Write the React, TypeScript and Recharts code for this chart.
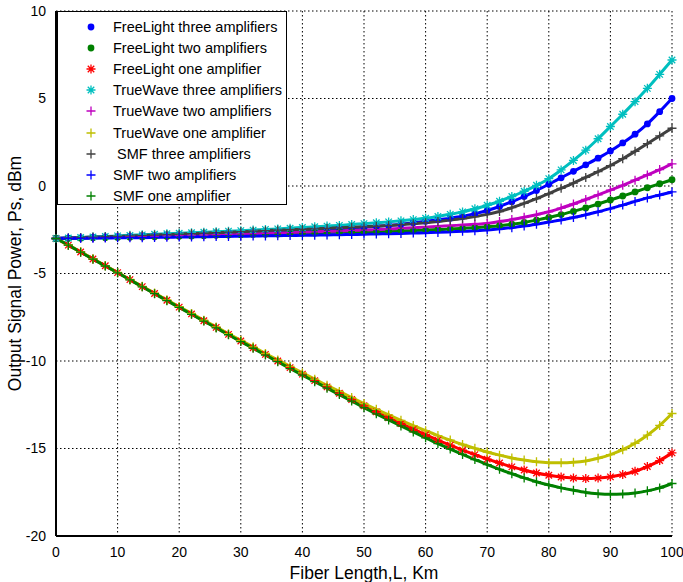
import { CartesianGrid, Legend, Line, LineChart, XAxis, YAxis } from "recharts";

const fiberLength = [
  0, 2, 4, 6, 8, 10, 12, 14, 16, 18, 20, 22, 24, 26, 28, 30, 32, 34, 36, 38, 40, 42, 44, 46, 48, 50,
  52, 54, 56, 58, 60, 62, 64, 66, 68, 70, 72, 74, 76, 78, 80, 82, 84, 86, 88, 90, 92, 94, 96, 98, 100
];

const freeLightThree = [
  -3.0, -2.98, -2.96, -2.93, -2.91, -2.89, -2.87, -2.84, -2.82, -2.8, -2.78, -2.75, -2.73, -2.7, -2.68, -2.66,
  -2.63, -2.61, -2.59, -2.56, -2.53, -2.5, -2.47, -2.44, -2.4, -2.35, -2.3, -2.25, -2.18, -2.1, -2.02, -1.93,
  -1.84, -1.73, -1.58, -1.4, -1.17, -0.9, -0.6, -0.26, 0.1, 0.47, 0.84, 1.21, 1.59, 2.0, 2.46, 2.96, 3.55, 4.25, 5.0
];
const freeLightTwo = [
  -3.0, -2.99, -2.98, -2.96, -2.95, -2.94, -2.93, -2.91, -2.9, -2.88, -2.87, -2.85, -2.84, -2.82, -2.8, -2.79,
  -2.77, -2.75, -2.74, -2.72, -2.7, -2.68, -2.66, -2.64, -2.62, -2.62, -2.61, -2.59, -2.57, -2.55, -2.52, -2.49,
  -2.46, -2.42, -2.38, -2.33, -2.27, -2.18, -2.08, -1.95, -1.8, -1.63, -1.45, -1.25, -1.03, -0.8, -0.57, -0.34,
  -0.1, 0.13, 0.36
];
const freeLightOne = [
  -3.0, -3.38, -3.77, -4.17, -4.56, -4.95, -5.35, -5.75, -6.14, -6.53, -6.92, -7.31, -7.7, -8.08, -8.48, -8.86,
  -9.24, -9.62, -10.0, -10.38, -10.75, -11.12, -11.48, -11.84, -12.2, -12.56, -12.9, -13.24, -13.57, -13.89,
  -14.21, -14.52, -14.81, -15.09, -15.35, -15.61, -15.83, -16.05, -16.23, -16.4, -16.53, -16.63, -16.69, -16.72,
  -16.69, -16.62, -16.49, -16.3, -16.03, -15.69, -15.25
];
const trueWaveThree = [
  -3.0, -2.97, -2.94, -2.91, -2.88, -2.85, -2.82, -2.79, -2.76, -2.73, -2.7, -2.67, -2.64, -2.61, -2.58, -2.55,
  -2.52, -2.48, -2.45, -2.41, -2.37, -2.33, -2.29, -2.25, -2.2, -2.15, -2.1, -2.05, -1.99, -1.92, -1.84, -1.74,
  -1.62, -1.48, -1.3, -1.1, -0.87, -0.6, -0.3, 0.04, 0.42, 0.92, 1.46, 2.05, 2.7, 3.4, 4.1, 4.82, 5.58, 6.38, 7.2
];
const trueWaveTwo = [
  -3.0, -2.98, -2.97, -2.95, -2.94, -2.92, -2.9, -2.89, -2.87, -2.85, -2.83, -2.81, -2.8, -2.78, -2.76, -2.74,
  -2.72, -2.7, -2.68, -2.66, -2.64, -2.62, -2.59, -2.57, -2.54, -2.52, -2.49, -2.46, -2.42, -2.39, -2.35, -2.31,
  -2.27, -2.23, -2.19, -2.14, -2.03, -1.92, -1.79, -1.64, -1.47, -1.26, -1.03, -0.77, -0.51, -0.24, 0.04, 0.33,
  0.63, 0.94, 1.27
];
const trueWaveOne = [
  -3.0, -3.37, -3.76, -4.16, -4.55, -4.94, -5.34, -5.73, -6.12, -6.51, -6.9, -7.28, -7.67, -8.05, -8.44, -8.82,
  -9.19, -9.57, -9.94, -10.31, -10.68, -11.04, -11.39, -11.74, -12.09, -12.43, -12.76, -13.08, -13.39, -13.69,
  -13.98, -14.26, -14.52, -14.77, -14.99, -15.2, -15.38, -15.54, -15.66, -15.76, -15.81, -15.82, -15.79, -15.71,
  -15.56, -15.35, -15.07, -14.7, -14.24, -13.68, -13.0
];
const smfThree = [
  -3.0, -2.97, -2.95, -2.92, -2.9, -2.88, -2.85, -2.83, -2.8, -2.78, -2.75, -2.72, -2.7, -2.67, -2.64, -2.61,
  -2.58, -2.55, -2.52, -2.5, -2.48, -2.45, -2.42, -2.39, -2.36, -2.33, -2.3, -2.26, -2.21, -2.16, -2.1, -2.03,
  -1.95, -1.86, -1.75, -1.62, -1.46, -1.24, -0.99, -0.72, -0.43, -0.13, 0.17, 0.49, 0.82, 1.17, 1.56, 1.98, 2.42,
  2.86, 3.3
];
const smfTwo = [
  -3.0, -2.99, -2.99, -2.98, -2.97, -2.96, -2.95, -2.95, -2.94, -2.93, -2.92, -2.91, -2.9, -2.89, -2.88, -2.87,
  -2.86, -2.85, -2.84, -2.83, -2.82, -2.81, -2.8, -2.78, -2.77, -2.76, -2.74, -2.73, -2.71, -2.69, -2.67, -2.65,
  -2.62, -2.59, -2.56, -2.52, -2.45, -2.38, -2.29, -2.18, -2.06, -1.94, -1.8, -1.64, -1.47, -1.29, -1.09, -0.88,
  -0.68, -0.51, -0.34
];
const smfOne = [
  -3.0, -3.38, -3.78, -4.18, -4.57, -4.96, -5.36, -5.76, -6.15, -6.55, -6.94, -7.33, -7.72, -8.11, -8.5, -8.89,
  -9.27, -9.66, -10.04, -10.43, -10.81, -11.18, -11.55, -11.92, -12.29, -12.66, -13.02, -13.37, -13.71, -14.05,
  -14.39, -14.72, -15.03, -15.34, -15.63, -15.92, -16.19, -16.44, -16.68, -16.9, -17.09, -17.25, -17.39, -17.51,
  -17.58, -17.61, -17.6, -17.54, -17.42, -17.25, -17.0
];

const xTicks = [0, 10, 20, 30, 40, 50, 60, 70, 80, 90, 100];
const yTicks = [-20, -15, -10, -5, 0, 5, 10];

const series = [
  { key: "fl3", name: "FreeLight three amplifiers", values: freeLightThree, color: "#0000ff", shape: "circle" },
  { key: "fl2", name: "FreeLight two amplifiers", values: freeLightTwo, color: "#008000", shape: "circle" },
  { key: "fl1", name: "FreeLight one amplifier", values: freeLightOne, color: "#ff0000", shape: "star" },
  { key: "tw3", name: "TrueWave three amplifiers", values: trueWaveThree, color: "#00bfbf", shape: "star" },
  { key: "tw2", name: "TrueWave two amplifiers", values: trueWaveTwo, color: "#bf00bf", shape: "plus" },
  { key: "tw1", name: "TrueWave one amplifier", values: trueWaveOne, color: "#bfbf00", shape: "plus" },
  { key: "smf3", name: " SMF three amplifiers", values: smfThree, color: "#404040", shape: "plus" },
  { key: "smf2", name: "SMF two amplifiers", values: smfTwo, color: "#0000ff", shape: "plus" },
  { key: "smf1", name: "SMF one amplifier", values: smfOne, color: "#008000", shape: "plus" }
];

const data = fiberLength.map((x, i) => {
  const row: Record<string, number> = { x };
  series.forEach((s) => (row[s.key] = s.values[i]));
  return row;
});

const FONT = "'Liberation Sans', Arial, Helvetica, sans-serif";

function Mark({ shape, color, x, y }: { shape: string; color: string; x: number; y: number }) {
  if (shape === "circle") return <circle cx={x} cy={y} r={3.4} fill={color} />;
  const s = 4.5;
  const d = s * 0.72;
  let path = `M${x - s},${y}H${x + s}M${x},${y - s}V${y + s}`;
  if (shape === "star") path += `M${x - d},${y - d}L${x + d},${y + d}M${x - d},${y + d}L${x + d},${y - d}`;
  return <path d={path} stroke={color} strokeWidth={1.3} fill="none" />;
}

function marker(shape: string, color: string) {
  return (p: any) => {
    const { cx, cy, index } = p;
    if (cx == null || cy == null) return <g key={`m${index}`} />;
    return (
      <g key={`m${index}`}>
        <Mark shape={shape} color={color} x={cx} y={cy} />
      </g>
    );
  };
}

function LegendBox() {
  return (
    <div
      style={{
        width: 230,
        height: 194,
        background: "#fff",
        border: "1.5px solid #000",
        boxSizing: "border-box",
        fontFamily: FONT,
        fontSize: 14.5,
        paddingTop: 4
      }}
    >
      {series.map((s) => (
        <div key={s.key} style={{ display: "flex", alignItems: "center", height: 21.2, whiteSpace: "pre" }}>
          <svg width={55} height={14}>
            <Mark shape={s.shape} color={s.color} x={33} y={7} />
          </svg>
          <span>{s.name}</span>
        </div>
      ))}
    </div>
  );
}

export default function App() {
  return (
    <div style={{ position: "absolute", left: 0, top: 0, width: 683, height: 582, background: "#fff" }}>
      <LineChart width={683} height={582} data={data} margin={{ top: 11, right: 11, bottom: 0, left: 0 }}>
        <CartesianGrid stroke="#000" strokeDasharray="1.5 2.5" strokeWidth={1} horizontalValues={yTicks} verticalValues={xTicks} />
        <XAxis
          dataKey="x"
          type="number"
          domain={[0, 100]}
          ticks={xTicks}
          height={46}
          tickLine={false}
          tickMargin={5}
          axisLine={{ stroke: "#000", strokeWidth: 2 }}
          tick={{ fill: "#000", fontSize: 14, fontFamily: FONT }}
          label={{ value: "Fiber Length,L, Km", position: "insideBottom", offset: 3, fill: "#000", fontSize: 17.5, fontFamily: FONT }}
        />
        <XAxis
          xAxisId="top"
          orientation="top"
          dataKey="x"
          type="number"
          domain={[0, 100]}
          ticks={xTicks}
          height={0}
          mirror
          tick={false}
          tickSize={5}
          tickLine={{ stroke: "#000" }}
          axisLine={{ stroke: "#000", strokeWidth: 2 }}
        />
        <YAxis
          type="number"
          domain={[-20, 10]}
          ticks={yTicks}
          width={56}
          tickLine={false}
          tickMargin={4}
          axisLine={{ stroke: "#000", strokeWidth: 2 }}
          tick={{ fill: "#000", fontSize: 14, fontFamily: FONT }}
          label={{
            value: "Output Signal Power, Ps, dBm",
            angle: -90,
            position: "insideLeft",
            offset: 15,
            style: { textAnchor: "middle" },
            fill: "#000",
            fontSize: 17.5,
            fontFamily: FONT
          }}
        />
        <YAxis
          yAxisId="right"
          orientation="right"
          type="number"
          domain={[-20, 10]}
          ticks={yTicks}
          width={0}
          mirror
          tick={false}
          tickSize={5}
          tickLine={{ stroke: "#000" }}
          axisLine={{ stroke: "#000", strokeWidth: 2 }}
        />
        {series.map((s) => (
          <Line
            key={s.key}
            dataKey={s.key}
            name={s.name}
            type="monotone"
            stroke={s.color}
            strokeWidth={3}
            dot={marker(s.shape, s.color)}
            activeDot={false}
            isAnimationActive={false}
          />
        ))}
        <Legend
          layout="vertical"
          align="center"
          verticalAlign="middle"
          wrapperStyle={{ left: 57, top: 11, width: 230, height: 194 }}
          content={() => <LegendBox />}
        />
      </LineChart>
    </div>
  );
}
